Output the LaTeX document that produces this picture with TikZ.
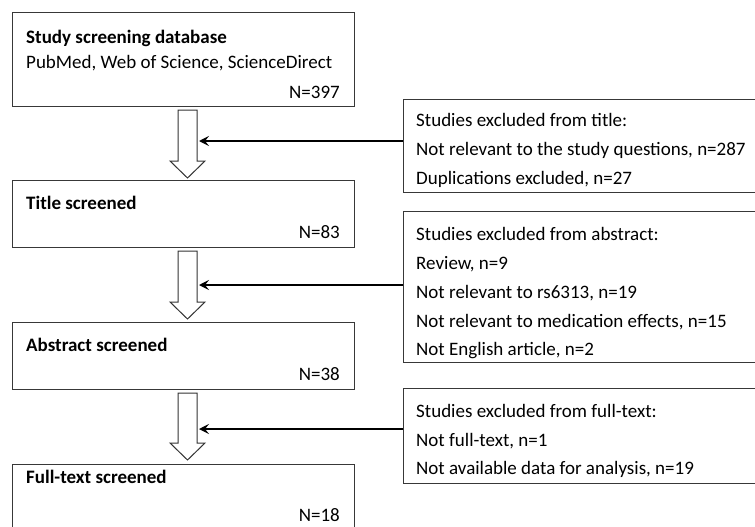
\documentclass[tikz,border=0pt]{standalone}
\usepackage{fontspec}
\setmainfont{Carlito}
\usetikzlibrary{arrows.meta}
\begin{document}
\begin{tikzpicture}[x=1pt,y=-1pt,
  box/.style={draw=black!78, line width=1.1pt, anchor=north west, inner sep=0pt},
  txt/.style={inner sep=0pt, font=\fontsize{19}{22}\selectfont},
  hollow/.style={draw=black!80, line width=1pt, fill=white, line join=miter},
  exarrow/.style={draw=black, line width=1.7pt, -{Stealth[length=10pt,width=10pt,inset=4pt]}}]
\useasboundingbox (0,0) rectangle (755,527);
\clip (0,0) rectangle (755,527);
% main boxes
\node[box, minimum width=342pt, minimum height=94pt] (db) at (12,12) {};
\node[box, minimum width=342pt, minimum height=67pt] (ts) at (12,180) {};
\node[box, minimum width=342pt, minimum height=67pt] (as) at (12,322) {};
\node[box, minimum width=342pt, minimum height=80pt] (fs) at (12,464) {};
% exclusion boxes
\node[box, minimum width=370pt, minimum height=93pt] (ex1) at (403,99) {};
\node[box, minimum width=370pt, minimum height=151pt] (ex2) at (403,211) {};
\node[box, minimum width=370pt, minimum height=95pt] (ex3) at (403,388) {};
% main texts
\node[txt, anchor=base west] (dbt) at (26,44) {\bfseries Study screening database};
\node[txt, anchor=base west] (dbs) at (26,69) {PubMed, Web of Science, ScienceDirect};
\node[txt, anchor=base east] (dbn) at (340,98) {N=397};
\node[txt, anchor=base west] (tst) at (26,209) {\bfseries Title screened};
\node[txt, anchor=base east] (tsn) at (340,238) {N=83};
\node[txt, anchor=base west] (ast) at (26,351) {\bfseries Abstract screened};
\node[txt, anchor=base east] (asn) at (340,380) {N=38};
\node[txt, anchor=base west] (fst) at (26,483) {\bfseries Full-text screened};
\node[txt, anchor=base east] (fsn) at (340,521) {N=18};
% exclusion texts
\node[txt, anchor=base west] (e1a) at (416,126) {Studies excluded from title:};
\node[txt, anchor=base west] (e1b) at (416,155) {Not relevant to the study questions, n=287};
\node[txt, anchor=base west] (e1c) at (416,184) {Duplications excluded, n=27};
\node[txt, anchor=base west] (e2a) at (416,240) {Studies excluded from abstract:};
\node[txt, anchor=base west] (e2b) at (416,269) {Review, n=9};
\node[txt, anchor=base west] (e2c) at (416,298) {Not relevant to rs6313, n=19};
\node[txt, anchor=base west] (e2d) at (416,327) {Not relevant to medication effects, n=15};
\node[txt, anchor=base west] (e2e) at (416,355) {Not English article, n=2};
\node[txt, anchor=base west] (e3a) at (416,417) {Studies excluded from full-text:};
\node[txt, anchor=base west] (e3b) at (416,446) {Not full-text, n=1};
\node[txt, anchor=base west] (e3c) at (416,474) {Not available data for analysis, n=19};
% hollow arrows
\draw[hollow] (178,110) -- (197,110) -- (197,161) -- (205,161) -- (187.5,178) -- (170,161) -- (178,161) -- cycle;
\draw[hollow] (178,251) -- (197,251) -- (197,302) -- (205,302) -- (187.5,319) -- (170,302) -- (178,302) -- cycle;
\draw[hollow] (178,393) -- (197,393) -- (197,443) -- (205,443) -- (187.5,460) -- (170,443) -- (178,443) -- cycle;
% exclusion arrows
\coordinate (t1) at (199,141);
\coordinate (t2) at (199,285);
\coordinate (t3) at (199,429);
\draw[exarrow] (ex1.west |- t1) -- (t1);
\draw[exarrow] (ex2.west |- t2) -- (t2);
\draw[exarrow] (ex3.west |- t3) -- (t3);
\end{tikzpicture}
\end{document}
